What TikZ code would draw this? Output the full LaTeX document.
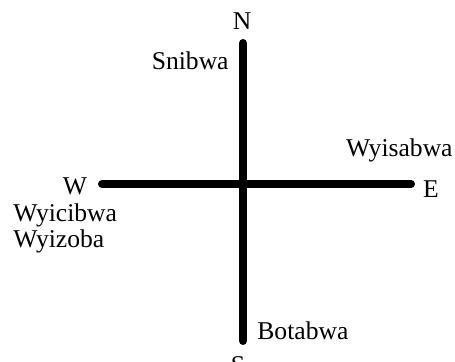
\documentclass[tikz,border=0pt]{standalone}
\usepackage{fontspec}
\setmainfont{Liberation Serif}
\usetikzlibrary{positioning}

\begin{document}
\begin{tikzpicture}[x=0.5pt,y=-0.5pt,every node/.style={font=\fontsize{12.8pt}{15pt}\selectfont,inner sep=0pt},
  axisline/.style={line width=4pt,line cap=round}]
  \useasboundingbox (0,0) rectangle (455,362);
  % arm ends
  \coordinate (tipN) at (243,43);
  \coordinate (tipS) at (243,341);
  \coordinate (tipW) at (102,184);
  \coordinate (tipE) at (411,184);
  \draw[axisline] (tipN) -- (tipS);
  \draw[axisline] (tipW) -- (tipE);
  % directions
  \node[anchor=base] (dirN) at (242,30) {N};
  \node[anchor=base] (dirS) at (238,374) {S};
  \node[anchor=base] (dirW) at (75,195) {W};
  \node[anchor=base] (dirE) at (431,198) {E};
  % names
  \node[anchor=base east] (snibwa) at (229,70) {Snibwa};
  \node[anchor=base east] (wyisabwa) at (453,157) {Wyisabwa};
  \node[anchor=base west] (wyicibwa) at (13,222) {Wyicibwa};
  \node[anchor=base west] (wyizoba) at (13,248) {Wyizoba};
  \node[anchor=base west] (botabwa) at (257,340) {Botabwa};
\end{tikzpicture}
\end{document}
